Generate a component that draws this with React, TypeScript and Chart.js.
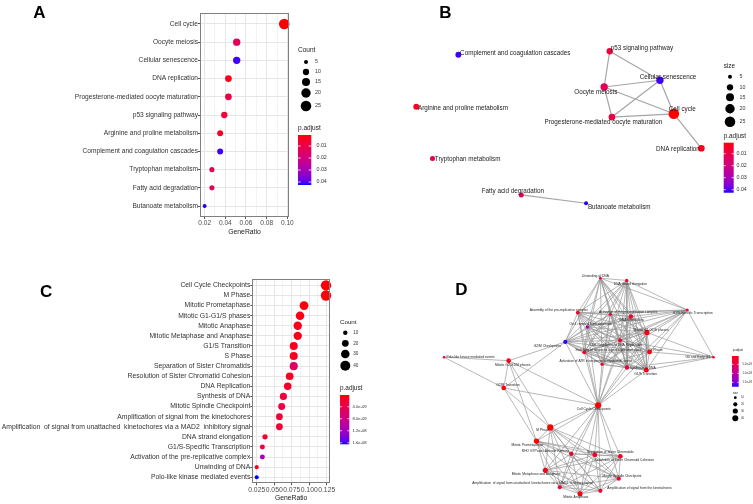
import React, { useEffect, useRef } from 'react';
import { Chart, registerables } from 'chart.js';

Chart.register(...registerables);

const FAMILY = "'Liberation Sans', Arial, Helvetica, sans-serif";

// ---------------- Panel A : KEGG dot plot ----------------
const keggTerms = [
  'Cell cycle',
  'Oocyte meiosis',
  'Cellular senescence',
  'DNA replication',
  'Progesterone-mediated oocyte maturation',
  'p53 signaling pathway',
  'Arginine and proline metabolism',
  'Complement and coagulation cascades',
  'Tryptophan metabolism',
  'Fatty acid degradation',
  'Butanoate metabolism',
];
const keggGeneRatio = [0.097, 0.051, 0.051, 0.043, 0.043, 0.039, 0.035, 0.035, 0.027, 0.027, 0.02];
const keggCount = [25, 13, 13, 11, 11, 10, 9, 9, 7, 7, 5];
const keggPadj = [0.0009, 0.013, 0.041, 0.003, 0.009, 0.007, 0.004, 0.041, 0.012, 0.013, 0.042];
const keggXTicks = [0.02, 0.04, 0.06, 0.08, 0.1];
const keggXTickLabels = ['0.02', '0.04', '0.06', '0.08', '0.10'];
const keggXMinor = [0.03, 0.05, 0.07, 0.09];
const keggXRange = [0.0155, 0.1016];
const keggCountLegend = [5, 10, 15, 20, 25];
const keggPadjRange = [0.0008, 0.0425];
const keggPadjLegend = [0.01, 0.02, 0.03, 0.04];
const keggPadjLegendLabels = ['0.01', '0.02', '0.03', '0.04'];

// ---------------- Panel B : KEGG network (same terms as A) ----------------
const keggNetX = [301, 229.3, 286.7, 329.3, 237.3, 235, 36, 79.3, 52.7, 144, 210.7];
const keggNetY = [113.3, 85.3, 78.3, 149.3, 116.7, 48, 106, 51.7, 160, 198, 206.7];
const keggNetLabelX = [309.7, 220.7, 295, 305.2, 228.5, 268.2, 84, 137.8, 88.8, 135.3, 244.8];
const keggNetLabelY = [108.7, 90.7, 74.7, 150, 122.3, 45.3, 107, 50, 160.3, 194.3, 210.7];
const keggNetEdges = [
  [5, 2], [5, 1], [1, 2], [1, 4], [1, 0], [4, 2], [4, 0], [2, 0], [0, 3], [9, 10],
];

// ---------------- Panel C : Reactome dot plot ----------------
const reactomeTerms = [
  'Cell Cycle Checkpoints',
  'M Phase',
  'Mitotic Prometaphase',
  'Mitotic G1-G1/S phases',
  'Mitotic Anaphase',
  'Mitotic Metaphase and Anaphase',
  'G1/S Transition',
  'S Phase',
  'Separation of Sister Chromatids',
  'Resolution of Sister Chromatid Cohesion',
  'DNA Replication',
  'Synthesis of DNA',
  'Mitotic Spindle Checkpoint',
  'Amplification of signal from the kinetochores',
  'Amplification  of signal from unattached  kinetochores via a MAD2  inhibitory signal',
  'DNA strand elongation',
  'G1/S-Specific Transcription',
  'Activation of the pre-replicative complex',
  'Unwinding of DNA',
  'Polo-like kinase mediated events',
];
const reactomeGeneRatio = [0.124, 0.124, 0.0926, 0.0869, 0.0836, 0.0836, 0.0779, 0.0779, 0.0779, 0.0721, 0.0693, 0.0631, 0.0607, 0.0574, 0.0574, 0.0369, 0.0331, 0.0331, 0.025, 0.025];
const reactomeCount = [43, 43, 32, 30, 29, 29, 27, 27, 27, 25, 24, 22, 21, 20, 20, 13, 12, 12, 9, 9];
const reactomePadj = [2e-10, 3e-10, 5e-10, 8e-10, 1e-9, 1e-9, 1e-9, 1.2e-9, 5.5e-9, 1.5e-9, 1.8e-9, 3e-9, 3.5e-9, 2.5e-9, 2.5e-9, 2e-9, 3.5e-9, 1.1e-8, 1e-9, 1.65e-8];
const reactomeXTicks = [0.025, 0.05, 0.075, 0.1, 0.125];
const reactomeXTickLabels = ['0.025', '0.050', '0.075', '0.100', '0.125'];
const reactomeXMinor = [0.0375, 0.0625, 0.0875, 0.1125];
const reactomeXRange = [0.0187, 0.1297];
const reactomeCountLegend = [10, 20, 30, 40];
const reactomePadjRange = [1e-10, 1.65e-8];
const reactomePadjLegend = [4e-9, 8e-9, 1.2e-8, 1.6e-8];
const reactomePadjLegendLabels = ['4.0e-09', '8.0e-09', '1.2e-08', '1.6e-08'];

// ---------------- Panel D : Reactome network ----------------
const reactomeNetNodes = [
  'Unwinding of DNA',
  'DNA strand elongation',
  'Assembly of the pre-replicative complex',
  'Activation of the pre-replicative complex',
  'DNA Replication',
  'G1/S-Specific Transcription',
  'Orc1 removal from chromatin',
  'Mitotic G1-G1/S phases',
  'G2/M Checkpoints',
  'CDK Regulation of DNA Replication',
  'S Phase',
  'Switching of origins to a post-replicative state',
  'Activation of ATR in response to replication stress',
  'Synthesis of DNA',
  'G1/S Transition',
  'G0 and Early G1',
  'Polo-like kinase mediated events',
  'Mitotic G2-G2/M phases',
  'G2/M Transition',
  'Cell Cycle Checkpoints',
  'M Phase',
  'Mitotic Prometaphase',
  'RHO GTPases Activate Formins',
  'Separation of Sister Chromatids',
  'Resolution of Sister Chromatid Cohesion',
  'Mitotic Metaphase and Anaphase',
  'Mitotic Spindle Checkpoint',
  'Amplification  of signal from unattached  kinetochores via a MAD2  inhibitory signal',
  'Amplification of signal from the kinetochores',
  'Mitotic Anaphase',
];
const reactomeNetX = [225, 251.7, 202, 235, 256, 313.3, 211.7, 272.3, 189.3, 245, 275, 208.7, 226.7, 252, 271.7, 340, 66, 131.7, 126.7, 222.7, 174, 160, 195.3, 219.3, 245.3, 169, 243.7, 183.7, 225, 204.3];
const reactomeNetY = [25.7, 28, 61, 62.7, 65, 58.3, 75.7, 81.3, 91, 89.3, 101.3, 101.7, 114, 117.3, 120, 106.7, 106.7, 110.3, 138.3, 156, 178.7, 192.7, 205.7, 206.7, 208.3, 222.7, 231.3, 240, 243.7, 246.7];
const reactomeNetCount = [9, 13, 17, 12, 24, 12, 15, 30, 20, 18, 27, 18, 12, 22, 27, 9, 9, 25, 25, 43, 43, 32, 22, 27, 25, 29, 21, 20, 20, 29];
const reactomeNetPadj = [2e-9, 2e-9, 2e-9, 3e-9, 1.8e-9, 3.5e-9, 1.1e-8, 8e-10, 1.7e-8, 2e-9, 1.2e-9, 2e-9, 2e-9, 3e-9, 1e-9, 2e-9, 2e-9, 1e-9, 1e-9, 2e-10, 3e-10, 5e-10, 2e-9, 2e-9, 1.5e-9, 1e-9, 2e-9, 2.5e-9, 2.5e-9, 1e-9];
const reactomeNetLabelX = [220, 255.5, 182.7, 253.3, 256.7, 318.8, 215.3, 276.5, 171, 240.7, 282, 233, 220.3, 268, 271, 324, 93, 135.8, 131, 218.3, 166.5, 150.8, 169.2, 235, 249.2, 159.7, 247, 156, 264.7, 200];
const reactomeNetLabelY = [23.3, 31.7, 58.7, 60.3, 68.3, 61.7, 72.3, 79.3, 95, 94, 99, 99.3, 111, 117.7, 123.7, 107, 106.3, 114.3, 135.7, 160, 181.7, 196.7, 202.7, 204, 211.7, 226.7, 228.7, 236, 241, 250];
const reactomeNetCliques = [
  [0, 1, 2, 3, 4, 5, 6, 7, 8, 9, 10, 11, 12, 13, 14],
  [20, 21, 22, 23, 24, 25, 26, 27, 28, 29],
];
const reactomeNetLinks = [
  [15, 5], [15, 7], [15, 10], [15, 14], [15, 13], [15, 9],
  [19, 8], [19, 11], [19, 12], [19, 13], [19, 14], [19, 10], [19, 7], [19, 9], [19, 4], [19, 6], [19, 2], [19, 3],
  [19, 20], [19, 21], [19, 22], [19, 23], [19, 24], [19, 25], [19, 26], [19, 27], [19, 28], [19, 29], [19, 17], [19, 18],
  [17, 16], [17, 18], [17, 8], [17, 20], [17, 21],
  [18, 16], [18, 8], [18, 20], [18, 21],
];
const reactomeNetCountLegend = [10, 20, 30, 40];
const reactomeNetPadjRange = [3.9e-10, 1.74e-8];
const reactomeNetPadjLegend = [5e-9, 1e-8, 1.5e-8];
const reactomeNetPadjLegendLabels = ['5.0e-09', '1.0e-08', '1.5e-08'];

// ---------------- colour helpers (red -> blue, Lab interpolation) ----------------
function toLinear(c: number) {
  c /= 255;
  return c <= 0.04045 ? c / 12.92 : Math.pow((c + 0.055) / 1.055, 2.4);
}
function fromLinear(c: number) {
  const v = c <= 0.0031308 ? 12.92 * c : 1.055 * Math.pow(Math.max(c, 0), 1 / 2.4) - 0.055;
  return Math.round(Math.min(1, Math.max(0, v)) * 255);
}
function rgbToLab(r: number, g: number, b: number) {
  const R = toLinear(r), G = toLinear(g), B = toLinear(b);
  const X = (0.4124564 * R + 0.3575761 * G + 0.1804375 * B) / 0.95047;
  const Y = 0.2126729 * R + 0.7151522 * G + 0.072175 * B;
  const Z = (0.0193339 * R + 0.119192 * G + 0.9503041 * B) / 1.08883;
  const f = (t: number) => (t > 216 / 24389 ? Math.cbrt(t) : ((24389 / 27) * t + 16) / 116);
  const fx = f(X), fy = f(Y), fz = f(Z);
  return [116 * fy - 16, 500 * (fx - fy), 200 * (fy - fz)];
}
function labToRgb(L: number, a: number, b: number) {
  const fy = (L + 16) / 116, fx = fy + a / 500, fz = fy - b / 200;
  const inv = (t: number) => (t * t * t > 216 / 24389 ? t * t * t : (116 * t - 16) / (24389 / 27));
  const X = inv(fx) * 0.95047, Y = inv(fy), Z = inv(fz) * 1.08883;
  const R = 3.2404542 * X - 1.5371385 * Y - 0.4985314 * Z;
  const G = -0.969266 * X + 1.8760108 * Y + 0.041556 * Z;
  const B = 0.0556434 * X - 0.2040259 * Y + 1.0572252 * Z;
  return `rgb(${fromLinear(R)},${fromLinear(G)},${fromLinear(B)})`;
}
const LAB_LOW = rgbToLab(255, 0, 0);
const LAB_HIGH = rgbToLab(0, 0, 255);
function rampColor(t: number) {
  const u = Math.min(1, Math.max(0, t));
  return labToRgb(
    LAB_LOW[0] + (LAB_HIGH[0] - LAB_LOW[0]) * u,
    LAB_LOW[1] + (LAB_HIGH[1] - LAB_LOW[1]) * u,
    LAB_LOW[2] + (LAB_HIGH[2] - LAB_LOW[2]) * u,
  );
}
function padjColor(p: number, range: number[]) {
  return rampColor((p - range[0]) / (range[1] - range[0]));
}

// ---------------- size mappings ----------------
const sizeKegg = (c: number) => Math.sqrt(4 + (c - 5) * 1.2);
const sizeReactome = (c: number) => Math.sqrt(4.8 + (c - 10) * 0.673);
const sizeReactomeNet = (c: number) => Math.sqrt(Math.max(0.5, 1.96 + (c - 10) * 0.235));

// ---------------- drawing helpers ----------------
function text(ctx: any, s: string, x: number, y: number, size: number, color = '#1a1a1a', align = 'left', weight = 'normal') {
  ctx.save();
  ctx.font = `${weight} ${size}px ${FAMILY}`;
  ctx.fillStyle = color;
  ctx.textAlign = align;
  ctx.textBaseline = 'middle';
  ctx.fillText(s, x, y);
  ctx.restore();
}

function drawColorbar(ctx: any, o: any) {
  text(ctx, o.title, o.titleX, o.titleY, o.titleSize);
  const grad = ctx.createLinearGradient(0, o.y, 0, o.y + o.h);
  for (let i = 0; i <= 40; i++) grad.addColorStop(i / 40, rampColor(i / 40));
  ctx.save();
  ctx.fillStyle = grad;
  ctx.fillRect(o.x, o.y, o.w, o.h);
  ctx.strokeStyle = '#ffffff';
  ctx.lineWidth = 0.8;
  o.ticks.forEach((v: number, i: number) => {
    const ty = o.y + ((v - o.range[0]) / (o.range[1] - o.range[0])) * o.h;
    ctx.beginPath();
    ctx.moveTo(o.x, ty); ctx.lineTo(o.x + o.w * 0.2, ty);
    ctx.moveTo(o.x + o.w * 0.8, ty); ctx.lineTo(o.x + o.w, ty);
    ctx.stroke();
    text(ctx, o.labels[i], o.labelX, ty, o.labelSize, '#333');
  });
  ctx.restore();
}

function drawSizeLegend(ctx: any, o: any) {
  text(ctx, o.title, o.titleX, o.titleY, o.titleSize);
  o.values.forEach((v: number, i: number) => {
    ctx.save();
    ctx.fillStyle = '#000';
    ctx.beginPath();
    ctx.arc(o.dotX, o.ys[i], o.radius(v), 0, Math.PI * 2);
    ctx.fill();
    ctx.restore();
    text(ctx, String(v), o.labelX, o.ys[i], o.labelSize, '#333');
  });
}

function letterPlugin(letter: string, x: number, y: number) {
  return {
    id: 'letter' + letter,
    afterDraw(chart: any) {
      const ctx = chart.ctx;
      ctx.save();
      ctx.font = `bold 17px ${FAMILY}`;
      ctx.fillStyle = '#000';
      ctx.textAlign = 'left';
      ctx.textBaseline = 'alphabetic';
      ctx.fillText(letter, x, y);
      ctx.restore();
    },
  };
}

const whiteBg = {
  id: 'whiteBg',
  beforeDraw(chart: any) {
    const ctx = chart.ctx;
    ctx.save();
    ctx.fillStyle = '#ffffff';
    ctx.fillRect(0, 0, chart.width, chart.height);
    ctx.restore();
  },
};

const panelBorder = {
  id: 'panelBorder',
  afterDatasetsDraw(chart: any) {
    const { left, top, right, bottom } = chart.chartArea;
    const ctx = chart.ctx;
    ctx.save();
    ctx.strokeStyle = '#808080';
    ctx.lineWidth = 1;
    ctx.strokeRect(Math.round(left) + 0.5, Math.round(top) + 0.5, Math.round(right - left) - 1, Math.round(bottom - top) - 1);
    ctx.restore();
  },
};

// ---------------- chart configs ----------------
function dotPlotConfig(o: any) {
  const allTicks = [...o.xTicks, ...o.xMinor].sort((a: number, b: number) => a - b);
  const majorIndex = (v: number) => o.xTicks.findIndex((t: number) => Math.abs(t - v) < 1e-9);
  const font = { family: FAMILY, size: o.tickSize };
  return {
    type: 'scatter',
    data: {
      datasets: [
        {
          data: o.terms.map((_: string, i: number) => ({ x: o.ratio[i], y: i })),
          pointRadius: o.counts.map(o.radius),
          pointHoverRadius: o.counts.map(o.radius),
          pointBackgroundColor: o.padj.map((p: number) => padjColor(p, o.padjRange)),
          pointBorderWidth: 0,
          clip: false,
        },
      ],
    },
    options: {
      animation: false,
      responsive: false,
      events: [],
      layout: { padding: { left: 0, top: o.padTop, right: o.padRight, bottom: 0 } },
      plugins: { legend: { display: false }, tooltip: { enabled: false } },
      scales: {
        x: {
          type: 'linear',
          min: o.xRange[0],
          max: o.xRange[1],
          afterBuildTicks: (s: any) => {
            s.ticks = allTicks.map((v: number) => ({ value: v }));
          },
          afterFit: (s: any) => {
            s.height = o.xAxisHeight;
          },
          ticks: {
            autoSkip: false,
            maxRotation: 0,
            minRotation: 0,
            padding: o.xTickPad,
            color: '#4d4d4d',
            font: { family: FAMILY, size: o.xTickSize },
            callback: (v: number) => {
              const i = majorIndex(v);
              return i >= 0 ? o.xTickLabels[i] : '';
            },
          },
          grid: {
            color: (c: any) => (c.tick && majorIndex(c.tick.value) >= 0 ? '#e6e6e6' : '#f3f3f3'),
            tickColor: (c: any) => (c.tick && majorIndex(c.tick.value) >= 0 ? '#555555' : 'rgba(0,0,0,0)'),
            tickLength: 2,
            lineWidth: 1,
          },
          border: { display: false },
          title: {
            display: true,
            text: 'GeneRatio',
            color: '#1a1a1a',
            font: { family: FAMILY, size: 6.8 },
            padding: { top: 0, bottom: o.titlePad },
          },
        },
        y: {
          type: 'linear',
          reverse: true,
          min: -0.6,
          max: o.terms.length - 0.4,
          afterBuildTicks: (s: any) => {
            s.ticks = o.terms.map((_: string, i: number) => ({ value: i }));
          },
          afterFit: (s: any) => {
            s.width = o.yAxisWidth;
          },
          ticks: {
            autoSkip: false,
            padding: 0,
            color: '#333333',
            font,
            callback: (v: number) => o.terms[Math.round(v)] ?? '',
          },
          grid: { color: '#e6e6e6', tickColor: '#555555', tickLength: 2, lineWidth: 1 },
          border: { display: false },
        },
      },
    },
    plugins: [
      whiteBg,
      panelBorder,
      {
        id: 'legends',
        afterDraw(chart: any) {
          drawSizeLegend(chart.ctx, o.sizeLegend);
          drawColorbar(chart.ctx, o.colorbar);
        },
      },
      letterPlugin(o.letter[0], o.letter[1], o.letter[2]),
    ],
  };
}

function networkConfig(o: any) {
  const edgePairs: number[][] = [];
  (o.cliques || []).forEach((g: number[]) => {
    for (let i = 0; i < g.length; i++) for (let j = i + 1; j < g.length; j++) edgePairs.push([g[i], g[j]]);
  });
  o.edges.forEach((e: number[]) => edgePairs.push(e));
  const edgeData: any[] = [];
  edgePairs.forEach(([a, b]) => {
    edgeData.push({ x: o.xs[a], y: o.ys[a] }, { x: o.xs[b], y: o.ys[b] }, { x: null, y: null });
  });
  return {
    type: 'scatter',
    data: {
      datasets: [
        {
          data: o.nodes.map((_: string, i: number) => ({ x: o.xs[i], y: o.ys[i] })),
          pointRadius: o.counts.map(o.radius),
          pointHoverRadius: o.counts.map(o.radius),
          pointBackgroundColor: o.padj.map((p: number) => padjColor(p, o.padjRange)),
          pointBorderWidth: 0,
          order: 0,
          clip: false,
        },
        {
          data: edgeData,
          showLine: true,
          spanGaps: false,
          pointRadius: 0,
          pointHoverRadius: 0,
          borderColor: o.edgeColor,
          borderWidth: o.edgeWidth,
          order: 1,
          clip: false,
        },
      ],
    },
    options: {
      animation: false,
      responsive: false,
      events: [],
      layout: { padding: 0 },
      plugins: { legend: { display: false }, tooltip: { enabled: false } },
      scales: {
        x: { type: 'linear', display: false, min: 0, max: o.W },
        y: { type: 'linear', display: false, min: 0, max: o.H, reverse: true },
      },
    },
    plugins: [
      whiteBg,
      {
        id: 'nodeLabels',
        afterDatasetsDraw(chart: any) {
          const xs = chart.scales.x, ys = chart.scales.y;
          o.nodes.forEach((name: string, i: number) => {
            text(chart.ctx, name, xs.getPixelForValue(o.labelX[i]), ys.getPixelForValue(o.labelY[i]), o.labelSize, '#222222', 'center');
          });
        },
      },
      {
        id: 'legends',
        afterDraw(chart: any) {
          drawSizeLegend(chart.ctx, o.sizeLegend);
          drawColorbar(chart.ctx, o.colorbar);
        },
      },
      letterPlugin(o.letter[0], o.letter[1], o.letter[2]),
    ],
  };
}

const configA = () =>
  dotPlotConfig({
    terms: keggTerms, ratio: keggGeneRatio, counts: keggCount, padj: keggPadj, padjRange: keggPadjRange,
    radius: sizeKegg, xRange: keggXRange, xTicks: keggXTicks, xTickLabels: keggXTickLabels, xMinor: keggXMinor,
    padTop: 13, padRight: 87, yAxisWidth: 200, xAxisHeight: 33, xTickPad: 0, titlePad: 13.9,
    tickSize: 6.6, xTickSize: 6.6,
    sizeLegend: { title: 'Count', titleX: 298, titleY: 50, titleSize: 6.5, values: keggCountLegend, dotX: 306, ys: [62, 72, 82, 93, 106], labelX: 315, labelSize: 5.3, radius: sizeKegg },
    colorbar: { title: 'p.adjust', titleX: 298, titleY: 128.3, titleSize: 6.5, x: 298, y: 135, w: 13.3, h: 50, range: keggPadjRange, ticks: keggPadjLegend, labels: keggPadjLegendLabels, labelX: 316.5, labelSize: 5.3 },
    letter: ['A', 33.3, 18.3],
  });

const configB = () =>
  networkConfig({
    nodes: keggTerms, xs: keggNetX, ys: keggNetY, counts: keggCount, padj: keggPadj, padjRange: keggPadjRange,
    radius: sizeKegg, edges: keggNetEdges, W: 377, H: 250, edgeColor: '#a5a5a5', edgeWidth: 1.2,
    labelX: keggNetLabelX, labelY: keggNetLabelY, labelSize: 6.3,
    sizeLegend: { title: 'size', titleX: 347.7, titleY: 66.7, titleSize: 6.4, values: keggCountLegend, dotX: 354, ys: [76.7, 87.3, 97.3, 108.7, 121.7], labelX: 363.5, labelSize: 5.3, radius: sizeKegg },
    colorbar: { title: 'p.adjust', titleX: 347.7, titleY: 136.7, titleSize: 6.4, x: 347.7, y: 142.7, w: 10, h: 50, range: keggPadjRange, ticks: keggPadjLegend, labels: keggPadjLegendLabels, labelX: 360.5, labelSize: 5.3 },
    letter: ['B', 63.3, 18.3],
  });

const configC = () =>
  dotPlotConfig({
    terms: reactomeTerms, ratio: reactomeGeneRatio, counts: reactomeCount, padj: reactomePadj, padjRange: reactomePadjRange,
    radius: sizeReactome, xRange: reactomeXRange, xTicks: reactomeXTicks, xTickLabels: reactomeXTickLabels, xMinor: reactomeXMinor,
    padTop: 29.3, padRight: 46, yAxisWidth: 252.3, xAxisHeight: 20.7, xTickPad: 0.6, titlePad: 1.6,
    tickSize: 6.8, xTickSize: 6.8,
    sizeLegend: { title: 'Count', titleX: 340, titleY: 72, titleSize: 6.2, values: reactomeCountLegend, dotX: 345.3, ys: [82.7, 93.3, 104, 115.7], labelX: 353.3, labelSize: 4.6, radius: sizeReactome },
    colorbar: { title: 'p.adjust', titleX: 340, titleY: 138, titleSize: 6.4, x: 340, y: 145, w: 9.3, h: 49.3, range: reactomePadjRange, ticks: reactomePadjLegend, labels: reactomePadjLegendLabels, labelX: 352.5, labelSize: 4.2 },
    letter: ['C', 40, 46.7],
  });

const configD = () =>
  networkConfig({
    nodes: reactomeNetNodes, xs: reactomeNetX, ys: reactomeNetY, counts: reactomeNetCount, padj: reactomeNetPadj, padjRange: reactomeNetPadjRange,
    radius: sizeReactomeNet, cliques: reactomeNetCliques, edges: reactomeNetLinks, W: 377, H: 254, edgeColor: 'rgba(150,150,150,0.85)', edgeWidth: 0.8,
    labelX: reactomeNetLabelX, labelY: reactomeNetLabelY, labelSize: 3.3,
    sizeLegend: { title: 'size', titleX: 356.7, titleY: 143.3, titleSize: 3, values: reactomeNetCountLegend, dotX: 359.3, ys: [147.7, 154.3, 161, 168.3], labelX: 365, labelSize: 2.8, radius: sizeReactomeNet },
    colorbar: { title: 'p.adjust', titleX: 356.7, titleY: 100, titleSize: 3, x: 356, y: 106, w: 6.7, h: 30.7, range: reactomeNetPadjRange, ticks: reactomeNetPadjLegend, labels: reactomeNetPadjLegendLabels, labelX: 366.5, labelSize: 2.8 },
    letter: ['D', 79.3, 45],
  });

function ChartCanvas(props: { make: () => any; left: number; top: number; width: number; height: number }) {
  const ref = useRef<HTMLCanvasElement | null>(null);
  useEffect(() => {
    const chart = new Chart(ref.current as any, props.make());
    return () => chart.destroy();
  }, []);
  return (
    <canvas
      ref={ref}
      width={props.width}
      height={props.height}
      style={{ position: 'absolute', left: props.left, top: props.top, width: props.width, height: props.height }}
    />
  );
}

export default function App() {
  return (
    <div style={{ position: 'fixed', left: 0, top: 0, width: 753, height: 504, background: '#ffffff', overflow: 'hidden' }}>
      <ChartCanvas make={configA} left={0} top={0} width={376} height={250} />
      <ChartCanvas make={configB} left={376} top={0} width={377} height={250} />
      <ChartCanvas make={configC} left={0} top={250} width={376} height={254} />
      <ChartCanvas make={configD} left={376} top={250} width={377} height={254} />
    </div>
  );
}
